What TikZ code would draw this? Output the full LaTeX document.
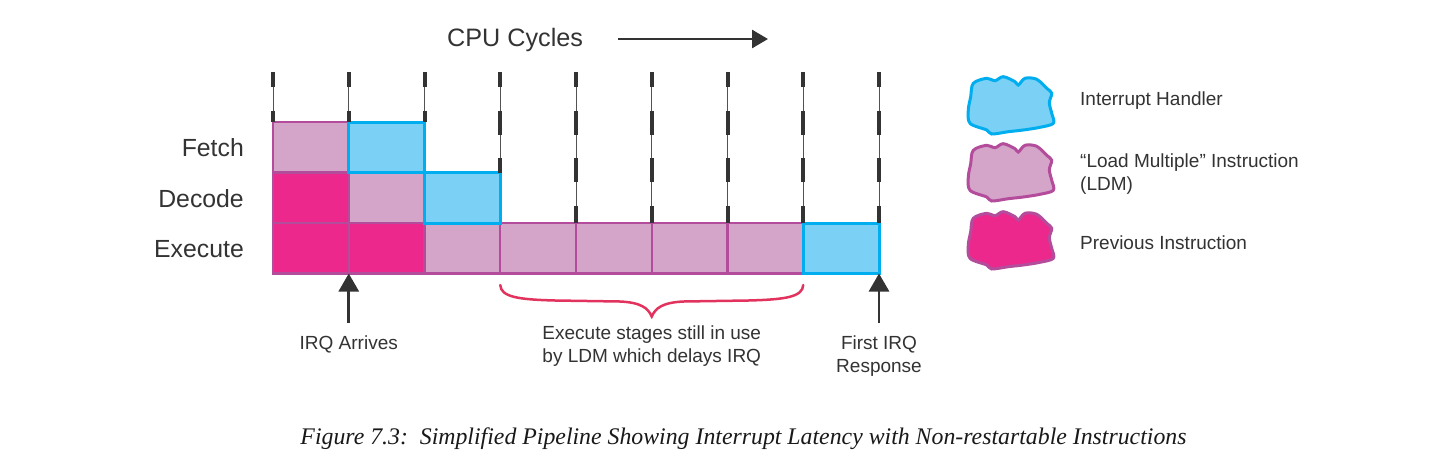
\documentclass[tikz,border=0pt]{standalone}
\usepackage{fontspec}
\setmainfont{Liberation Sans}
\newfontfamily\capfont{Liberation Serif}
\usetikzlibrary{arrows.meta}
\definecolor{hblue}{HTML}{7AD0F5}
\definecolor{hbluedk}{HTML}{00AEEF}
\definecolor{ldm}{HTML}{D5A5C9}
\definecolor{ldmdk}{HTML}{B44C9C}
\definecolor{prev}{HTML}{EC288C}
\definecolor{txt}{HTML}{333333}
\definecolor{bracered}{HTML}{E2335F}
\begin{document}
\begin{tikzpicture}[x=1pt,y=-1pt,
  cell/.style={minimum width=75.75pt, minimum height=50.5pt, inner sep=0pt, outer sep=0pt, anchor=north west},
  ldmcell/.style={cell, fill=ldm, draw=ldmdk, line width=2.2pt},
  prevcell/.style={cell, fill=prev, draw=ldmdk, line width=2.2pt},
  blucell/.style={cell, fill=hblue, draw=hbluedk, line width=3pt},
  vthin/.style={draw=txt!85, line width=1pt},
  vdash/.style={draw=txt, line width=4pt, dash pattern=on 24pt off 23.5pt, dash phase=9pt},
  rowlbl/.style={text=txt, anchor=east, inner sep=0pt, font=\fontsize{24.8}{28}\selectfont},
  small/.style={text=txt, inner sep=0pt, align=center, font=\fontsize{19}{23}\selectfont},
  leg/.style={text=txt, inner sep=0pt, align=left, anchor=west, font=\fontsize{19}{23}\selectfont},
  uparrow/.style={draw=txt, line width=2.8pt, -{Triangle[length=18pt,width=20pt]}},
  blob/.pic={\path[pic actions] plot[smooth cycle, tension=0.55] coordinates {(5.3,7.3) (18.7,2.3) (27,4.7) (35.3,0.7) (47,5.7) (50.3,9) (57,2.3) (68.7,3.3) (78.7,12.3) (83.7,17.3) (81.3,26.7) (83.7,37.3) (85.3,47.3) (72,51.3) (55.3,54) (40.3,55.7) (23.7,58) (18.7,54) (2,47.3) (0.3,34) (2.7,20.7)};}
]
\useasboundingbox (0,0) rectangle (1440,461);
\fill[white] (0,0) rectangle (1440,461);

% cells
\node[ldmcell] (f0) at (273,122) {};
\node[prevcell] (d0) at (273,172.5) {};
\node[ldmcell] (d1) at (348.75,172.5) {};
\node[prevcell] (e0) at (273,223) {};
\node[prevcell] (e1) at (348.75,223) {};
\foreach \i in {2,...,6} \node[ldmcell] (e\i) at ({273+75.75*\i},223) {};
\node[blucell] (f1) at (348.75,122) {};
\node[blucell] (d2) at (424.5,172.5) {};
\node[blucell] (e7) at (803.25,223) {};

% vertical cycle lines
\foreach \i/\t in {0/f0.north west,1/f1.north west,2/f1.north east,3/d2.north east,4/e4.north west,5/e5.north west,6/e6.north west,7/e7.north west,8/e7.north east}{
  \coordinate (t\i) at ({273+75.75*\i},72);
  \draw[vthin] (t\i) -- (\t);
  \draw[vdash] (t\i) -- (\t);
}

% row labels
\node[rowlbl] (lfetch) at (244,147.75) {Fetch};
\node[rowlbl] (ldecode) at (244,198.5) {Decode};
\node[rowlbl] (lexec) at (244,249) {Execute};

% CPU cycles
\node[text=txt, inner sep=0pt, anchor=west, font=\fontsize{25.2}{28}\selectfont] (cpu) at (447,39.5) {CPU Cycles};
\coordinate (ca) at (618,39);
\coordinate (cb) at (768,39);
\draw[draw=txt, line width=2.8pt, -{Triangle[length=16pt,width=18pt]}] (ca) -- (cb);

% arrows up
\coordinate (irqb) at (348.75,323);
\draw[uparrow] (irqb) -- (e1.south west);
\coordinate (frb) at (879,323);
\draw[uparrow] (frb) -- (e7.south east);

% brace
\coordinate (bl) at (500.25,285);
\coordinate (br) at (803.25,285);
\draw[bracered, line width=2.5pt, line cap=round]
  (bl) .. controls (501,297) and (518,299.5) .. (555,300.5)
  -- (620,301.5)
  .. controls (641,302.5) and (648,308) .. (651.75,316.5)
  .. controls (655.5,308) and (662.5,302.5) .. (683.5,301.5)
  -- (748.5,300.5)
  .. controls (785.5,299.5) and (802.5,297) .. (br);

% bottom labels
\node[small] (irq) at (348.75,344.5) {IRQ Arrives};
\node[small] (stg) at (651.75,346.5) {Execute stages still in use\\by LDM which delays IRQ};
\node[small] (first) at (879,356) {First IRQ\\Response};

% legend
\pic[fill=hblue, draw=hbluedk, line width=3pt] at (968,76) {blob};
\pic[fill=ldm, draw=ldmdk, line width=3pt] at (968,143) {blob};
\pic[fill=prev, draw=ldmdk, line width=3pt] at (968,211) {blob};
\node[leg] (lh) at (1080,101) {Interrupt Handler};
\node[leg] (ll) at (1080,174) {“Load Multiple” Instruction\\(LDM)};
\node[leg] (lp) at (1080,243) {Previous Instruction};

% caption
\node[inner sep=0pt, text=black!90] (cap) at (743.5,438.5) {\capfont\itshape\fontsize{23.8}{26}\selectfont Figure 7.3:\ \ Simplified Pipeline Showing Interrupt Latency with Non-restartable Instructions};
\end{tikzpicture}
\end{document}
